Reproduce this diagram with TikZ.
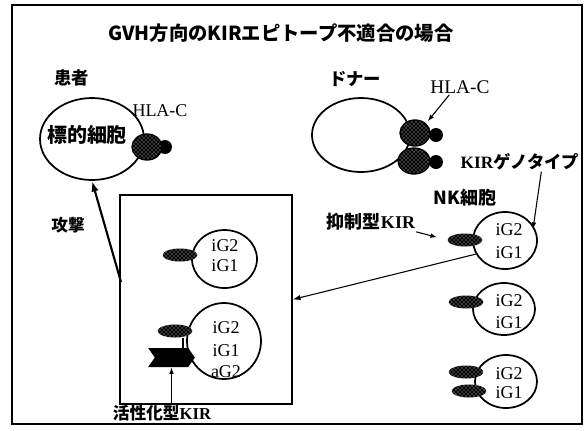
\documentclass[tikz,border=0pt]{standalone}
\usepackage{fontspec}
\setmainfont{Liberation Serif}
\newfontfamily\jpfont{Noto Sans CJK JP}
\usetikzlibrary{shapes.geometric}
\usetikzlibrary{shapes.symbols}
\usetikzlibrary{arrows.meta}
\usetikzlibrary{patterns}

\newcommand{\kirtxt}{{\rmfamily\bfseries KIR}}

\tikzset{
  cell/.style={draw,ellipse,line width=1.3pt,inner sep=0pt},
  kir/.style={ellipse,inner sep=0pt,minimum width=26pt,minimum height=9.75pt,
    preaction={fill=black},pattern=crosshatch dots,pattern color=white},
  hla/.style={ellipse,draw,line width=1pt,inner sep=0pt,minimum width=22.5pt,minimum height=19.5pt,
    preaction={fill=black},pattern=crosshatch dots,pattern color=white},
  hlatip/.style={circle,fill=black,inner sep=0pt,minimum size=10.5pt},
  geno/.style={font=\fontsize{13.5}{15}\selectfont,inner sep=0.75pt},
  jlab/.style={font=\jpfont\bfseries\fontsize{13}{15}\selectfont,inner sep=0.75pt},
  ptr/.style={line width=0.8pt,-{Latex[length=5pt,width=3.5pt]}}
}

\begin{document}
\begin{tikzpicture}[x=0.75pt,y=0.75pt,yscale=-1,xscale=1]
\useasboundingbox (0,0) rectangle (587,430);
\draw[line width=1.1pt] (12,5) rectangle (582,424);

\node[font=\jpfont\bfseries\fontsize{14.5}{17}\selectfont,inner sep=0.75pt] (title) at (281,33) {GVH方向のKIRエピトープ不適合の場合};

% patient side
\node[jlab] (pat) at (72,78) {患者};
\node[cell,minimum width=78pt,minimum height=61.5pt] (patient) at (92,139) {};
\node[jlab,font=\jpfont\bfseries\fontsize{15}{17}\selectfont] (target) at (87,135) {標的細胞};
\node[hlatip] (hlaPt) at (165,147) {};
\node[hla] (hlaP) at (147,147) {};
\node[geno] (hlaPlab) at (160,111) {HLA-C};

% donor side
\node[jlab] (don) at (355,79) {ドナー};
\node[cell,minimum width=73.5pt,minimum height=55.5pt] (donor) at (361,135) {};
\node[hlatip] (hlaD1t) at (436,135) {};
\node[hlatip] (hlaD2t) at (436,162) {};
\node[hla] (hlaD1) at (415,133) {};
\node[hla,minimum width=24pt] (hlaD2) at (414,161) {};
\node[geno,font=\fontsize{14.5}{16}\selectfont] (hlaDlab) at (460,87) {HLA-C};
\draw[ptr,shorten >=2pt] ([xshift=-8pt]hlaDlab.south) -- (hlaD1.north east);

% donor NK cells
\node[cell,minimum width=48pt,minimum height=42.75pt] (nk1) at (505,240.5) {};
\node[cell,minimum width=46.5pt,minimum height=39pt] (nk2) at (504,309) {};
\node[cell,minimum width=46.5pt,minimum height=39.75pt] (nk3) at (506,381.5) {};
\node[kir] (r1) at (465,240) {};
\node[kir] (r2) at (466,302) {};
\node[kir] (r3a) at (466,372) {};
\node[kir] (r3b) at (469,391) {};
\node[geno] (n1a) at (509,230) {iG2};
\node[geno] (n1b) at (509,253) {iG1};
\node[geno] (n2a) at (509,301) {iG2};
\node[geno] (n2b) at (509,323) {iG1};
\node[geno] (n3a) at (509,374) {iG2};
\node[geno] (n3b) at (509,393) {iG1};

\node[jlab,font=\jpfont\bfseries\fontsize{13.5}{15}\selectfont] (nklab) at (465,198) {NK細胞};
\node[jlab] (genolab) at (520,162) {\kirtxt ゲノタイプ};
\coordinate (g2) at (533,229);
\draw[ptr] ([xshift=16pt]genolab.south) -- (g2);
\node[jlab,font=\jpfont\bfseries\fontsize{13.5}{15}\selectfont] (inhlab) at (371,222) {抑制型\kirtxt};
\draw[ptr,shorten >=8pt] (inhlab.south east) -- (r1.west);

% NK cells that do not see a ligand
\node[draw,line width=0.8pt,minimum width=129pt,minimum height=156.75pt,inner sep=0pt] (inbox) at (206,299.5) {};
\node[cell,minimum width=48.75pt,minimum height=43.5pt] (cA) at (224.5,259) {};
\node[kir] (rA) at (180,255) {};
\node[geno] (a1) at (225,246) {iG2};
\node[geno] (a2) at (225,266) {iG1};

\node[cell,minimum width=55.5pt,minimum height=57pt] (cB) at (224,341) {};
\node[kir] (rB) at (175,331) {};
\node[signal,signal to=east,signal from=west,signal pointer angle=110,fill=black,
  minimum width=35pt,minimum height=14.25pt,inner sep=0pt] (act) at (171.5,357.5) {};
\draw[line width=1pt] ([xshift=6pt]rB.south) -- ([xshift=6pt]rB.south |- act.north);
\node[geno] (b1) at (226,328) {iG2};
\node[geno] (b2) at (226,351) {iG1};
\node[geno] (b3) at (226,372) {aG2};
\node[jlab,font=\jpfont\bfseries\fontsize{12.5}{15}\selectfont] (actlab) at (162,413) {活性化型\kirtxt};
\draw[ptr] (act.south |- actlab.north) -- (act.south);

\draw[line width=0.8pt,-{Latex[length=6pt,width=4pt]}] (nk1.205) -- (inbox.east);

% attack
\node[jlab,font=\jpfont\bfseries\fontsize{12.5}{15}\selectfont] (atklab) at (68,225) {攻撃};
\coordinate (atk) at (121,282);
\draw[line width=1.6pt,-{Latex[length=8pt,width=5.5pt]}] (atk) -- (patient.south);
\end{tikzpicture}
\end{document}
